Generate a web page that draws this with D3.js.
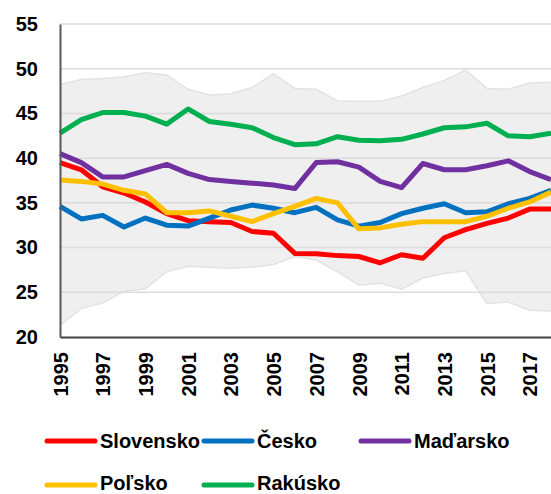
<!DOCTYPE html>
<html>
<head>
<meta charset="utf-8">
<script src="https://cdn.jsdelivr.net/npm/d3@7"></script>
<style>
  html, body { margin: 0; padding: 0; background: #ffffff; }
  svg { display: block; }
  text { font-family: "Liberation Sans", Arial, sans-serif; font-weight: bold; fill: #000; }
</style>
</head>
<body>
<svg id="chart" width="551" height="494"></svg>
<script>
const years = d3.range(1995, 2019);
const yTicks = [20, 25, 30, 35, 40, 45, 50, 55];
const xTicks = [1995, 1997, 1999, 2001, 2003, 2005, 2007, 2009, 2011, 2013, 2015, 2017];

const slovensko = [39.5, 38.7, 36.8, 36.1, 35.1, 33.8, 33.0, 32.9, 32.8, 31.8, 31.6, 29.35, 29.3, 29.1, 29.0, 28.3, 29.2, 28.8, 31.1, 32.0, 32.7, 33.3, 34.3, 34.3];
const cesko     = [34.6, 33.2, 33.6, 32.3, 33.3, 32.5, 32.4, 33.3, 34.2, 34.75, 34.4, 33.9, 34.5, 33.1, 32.4, 32.8, 33.8, 34.4, 34.9, 33.9, 34.0, 34.9, 35.5, 36.4];
const madarsko  = [40.5, 39.5, 37.9, 37.9, 38.6, 39.3, 38.3, 37.6, 37.4, 37.2, 37.0, 36.6, 39.5, 39.6, 39.0, 37.4, 36.7, 39.4, 38.7, 38.7, 39.15, 39.7, 38.5, 37.6];
const polsko    = [37.55, 37.4, 37.1, 36.4, 36.0, 33.9, 33.9, 34.1, 33.5, 32.9, 33.8, 34.6, 35.5, 35.0, 32.1, 32.2, 32.6, 32.9, 32.9, 32.9, 33.5, 34.4, 35.1, 36.2];
const rakusko   = [42.8, 44.3, 45.1, 45.1, 44.7, 43.8, 45.5, 44.1, 43.8, 43.4, 42.3, 41.5, 41.6, 42.4, 42.0, 41.95, 42.1, 42.7, 43.4, 43.5, 43.9, 42.5, 42.4, 42.8];
const bandMax   = [48.25, 48.8, 48.9, 49.1, 49.55, 49.3, 47.7, 47.05, 47.2, 47.9, 49.45, 47.8, 47.7, 46.4, 46.35, 46.35, 46.95, 47.9, 48.7, 49.85, 47.8, 47.7, 48.4, 48.5];
const bandMin   = [21.3, 23.2, 23.8, 25.1, 25.4, 27.3, 27.9, 27.8, 27.7, 27.8, 28.1, 29.0, 28.6, 27.3, 25.8, 26.0, 25.35, 26.6, 27.1, 27.4, 23.75, 23.9, 23.0, 22.9];

const seriesNames = ["Slovensko", "Česko", "Maďarsko", "Poľsko", "Rakúsko"];
const seriesValues = [slovensko, cesko, madarsko, polsko, rakusko];
const seriesColors = ["#ff0000", "#0070c0", "#7030a0", "#ffc000", "#00b050"];

const svg = d3.select("#chart");
const x = d3.scaleLinear().domain([1995, 2018]).range([60, 551]);
const y = d3.scaleLinear().domain([20, 55]).range([337, 24]);

// band
const band = years.map((yr, i) => ({ yr, lo: bandMin[i], hi: bandMax[i] }));
svg.append("path")
  .datum(band)
  .attr("fill", "#efefef")
  .attr("d", d3.area().x(d => x(d.yr)).y0(d => y(d.lo)).y1(d => y(d.hi)));
["hi", "lo"].forEach(k => {
  svg.append("path")
    .datum(band)
    .attr("fill", "none")
    .attr("stroke", "#e3e3e3")
    .attr("stroke-width", 1.5)
    .attr("d", d3.line().x(d => x(d.yr)).y(d => y(d[k])));
});

// gridlines
svg.append("g")
  .selectAll("line")
  .data(yTicks.filter(t => t > 20))
  .join("line")
  .attr("x1", x(1995)).attr("x2", x(2018))
  .attr("y1", d => y(d)).attr("y2", d => y(d))
  .attr("stroke", "#d9d9d9")
  .attr("stroke-width", 1.5)
  .attr("opacity", 0.9);

// series
const line = d3.line().x((d, i) => x(years[i])).y(d => y(d));
seriesValues.forEach((vals, i) => {
  svg.append("path")
    .datum(vals)
    .attr("fill", "none")
    .attr("stroke", seriesColors[i])
    .attr("stroke-width", 5)
    .attr("stroke-linejoin", "round")
    .attr("d", line);
});

// y axis
const yAxis = svg.append("g")
  .attr("transform", `translate(${x(1995)},0)`)
  .call(d3.axisLeft(y).tickValues(yTicks).tickSize(0).tickPadding(22).tickFormat(d3.format("d")));
yAxis.select(".domain").attr("stroke", "#595959").attr("stroke-width", 2);
yAxis.selectAll("text")
  .style("font-size", "20px")
  .style("font-family", "'Liberation Sans', Arial, sans-serif")
  .style("font-weight", "bold")
  .attr("fill", "#000");

// x axis
const xAxis = svg.append("g")
  .attr("transform", `translate(0,${y(20)})`)
  .call(d3.axisBottom(x).tickValues(xTicks).tickSize(0).tickFormat(d3.format("d")));
xAxis.select(".domain").attr("stroke", "#404040").attr("stroke-width", 2);
xAxis.selectAll("text")
  .style("font-size", "20px")
  .style("font-family", "'Liberation Sans', Arial, sans-serif")
  .style("font-weight", "bold")
  .attr("fill", "#000")
  .attr("text-anchor", "end")
  .attr("dy", "0.36em")
  .attr("transform", "translate(0,15) rotate(-90)")
  .attr("x", 0)
  .attr("y", 0);

// legend
const legendPos = [
  { lx: 45, ly: 441, ty: 448 },
  { lx: 202, ly: 441, ty: 448 },
  { lx: 359, ly: 441, ty: 448 },
  { lx: 45, ly: 485, ty: 490 },
  { lx: 202, ly: 485, ty: 490 }
];
const legend = svg.append("g");
seriesNames.forEach((name, i) => {
  const p = legendPos[i];
  legend.append("line")
    .attr("x1", p.lx + 2).attr("x2", p.lx + 50)
    .attr("y1", p.ly).attr("y2", p.ly)
    .attr("stroke", seriesColors[i])
    .attr("stroke-width", 5)
    .attr("stroke-linecap", "round");
  legend.append("text")
    .attr("x", p.lx + 55)
    .attr("y", p.ty)
    .style("font-size", "20px")
    .text(name);
});
</script>
</body>
</html>
